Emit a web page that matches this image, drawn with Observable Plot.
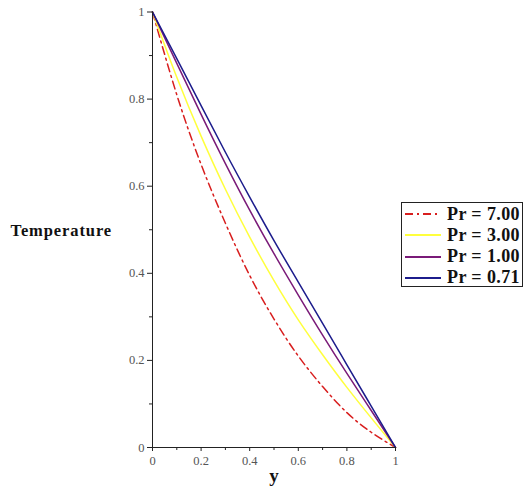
<!DOCTYPE html>
<html>
<head>
<meta charset="utf-8">
<script src="https://cdn.jsdelivr.net/npm/d3@7"></script>
<script src="https://cdn.jsdelivr.net/npm/@observablehq/plot@0.6"></script>
<style>
  html, body { margin: 0; padding: 0; background: #fff; }
  #wrap { position: relative; width: 525px; height: 493px; }
  #legend {
    position: absolute; left: 401px; top: 202px; width: 122px; height: 85px;
    border: 1px solid #222; background: #fff; box-sizing: border-box;
    font-family: "Liberation Serif", "DejaVu Serif", serif; font-weight: bold; font-size: 18px;
    letter-spacing: 0.4px; color: #111;
  }
  .row { position: absolute; left: 0; height: 20px; display: flex; align-items: center; white-space: nowrap; }
  .row svg { margin-left: 3px; margin-right: 6px; }
</style>
</head>
<body>
<div id="wrap"></div>
<script>
// positions across the channel (horizontal axis "y")
const ys = [0, 0.1, 0.2, 0.3, 0.4, 0.5, 0.6, 0.7, 0.8, 0.9, 1.0];
// temperature values
const pr700 = [1, 0.81, 0.65, 0.515, 0.395, 0.295, 0.21, 0.14, 0.08, 0.035, 0];
const pr300 = [1, 0.85, 0.715, 0.593, 0.483, 0.383, 0.293, 0.213, 0.138, 0.068, 0];
const pr100 = [1, 0.882, 0.765, 0.652, 0.545, 0.445, 0.35, 0.258, 0.17, 0.085, 0];
const pr071 = [1, 0.893, 0.785, 0.678, 0.575, 0.475, 0.38, 0.285, 0.19, 0.095, 0];

const seriesNames = ["Pr = 7.00", "Pr = 3.00", "Pr = 1.00", "Pr = 0.71"];
const seriesValues = [pr700, pr300, pr100, pr071];
const seriesColors = ["#d81e1e", "#ffff3c", "#7a1a78", "#1c1c8c"];
const seriesDash = ["8,4,2,4", null, null, null];

const xMajor = [0, 0.2, 0.4, 0.6, 0.8, 1];
const xMinor = [0.1, 0.3, 0.5, 0.7, 0.9];
const yMajor = [0, 0.2, 0.4, 0.6, 0.8, 1];
const yMinor = [0.1, 0.3, 0.5, 0.7, 0.9];

const rows = [];
seriesNames.forEach((name, i) => {
  ys.forEach((y, j) => rows.push({name, y, t: seriesValues[i][j]}));
});

const serif = "'Liberation Serif', 'DejaVu Serif', serif";

const lineMarks = seriesNames.map((name, i) =>
  Plot.line(rows.filter(d => d.name === name), {
    x: "y", y: "t", stroke: seriesColors[i], strokeWidth: 1.5,
    strokeDasharray: seriesDash[i], curve: "natural"
  })
);

const chart = Plot.plot({
  width: 525,
  height: 493,
  marginLeft: 152,
  marginRight: 130,
  marginTop: 11.5,
  marginBottom: 46,
  style: {fontFamily: serif, fontSize: "12.5px", color: "#444", background: "#fff"},
  x: {domain: [0, 1]},
  y: {domain: [0, 1]},
  marks: [
    ...lineMarks,
    Plot.ruleX([0], {stroke: "#222", strokeWidth: 1}),
    Plot.ruleY([0], {stroke: "#222", strokeWidth: 1}),
    Plot.axisX(xMajor, {tickSize: 4, tickPadding: 5, stroke: "#222", fill: "#555", label: null, tickFormat: d => String(d)}),
    Plot.axisX(xMinor, {tickSize: 3, stroke: "#222", text: null, label: null}),
    Plot.axisY(yMajor, {tickSize: 5, tickPadding: 3, stroke: "#222", fill: "#555", label: null, tickFormat: d => String(d)}),
    Plot.axisY(yMinor, {tickSize: 3, stroke: "#222", text: null, label: null}),
    Plot.text(["y"], {frameAnchor: "bottom", dy: 34, fontSize: 19, fontWeight: "bold", fill: "#111"}),
    Plot.text(["Temperature"], {frameAnchor: "left", dx: -142, dy: 1, textAnchor: "start", fontSize: 16.5, fontWeight: "bold", fill: "#111", style: "letter-spacing: 0.8px"})
  ]
});

const wrap = document.getElementById("wrap");
wrap.appendChild(chart);
// letter spacing for the vertical-axis title
chart.querySelectorAll("text").forEach(t => { if (t.textContent === "Temperature") t.setAttribute("letter-spacing", "0.9"); });

const legend = document.createElement("div");
legend.id = "legend";
seriesNames.forEach((name, i) => {
  const row = document.createElement("div");
  row.className = "row";
  row.style.top = (1 + i * 21.3) + "px";
  const dash = seriesDash[i] ? `stroke-dasharray="${seriesDash[i]}"` : "";
  row.innerHTML = `<svg width="36" height="4"><line x1="0" x2="36" y1="2" y2="2" stroke="${seriesColors[i]}" stroke-width="2" ${dash}/></svg><span>${name}</span>`;
  legend.appendChild(row);
});
wrap.appendChild(legend);
</script>
</body>
</html>
